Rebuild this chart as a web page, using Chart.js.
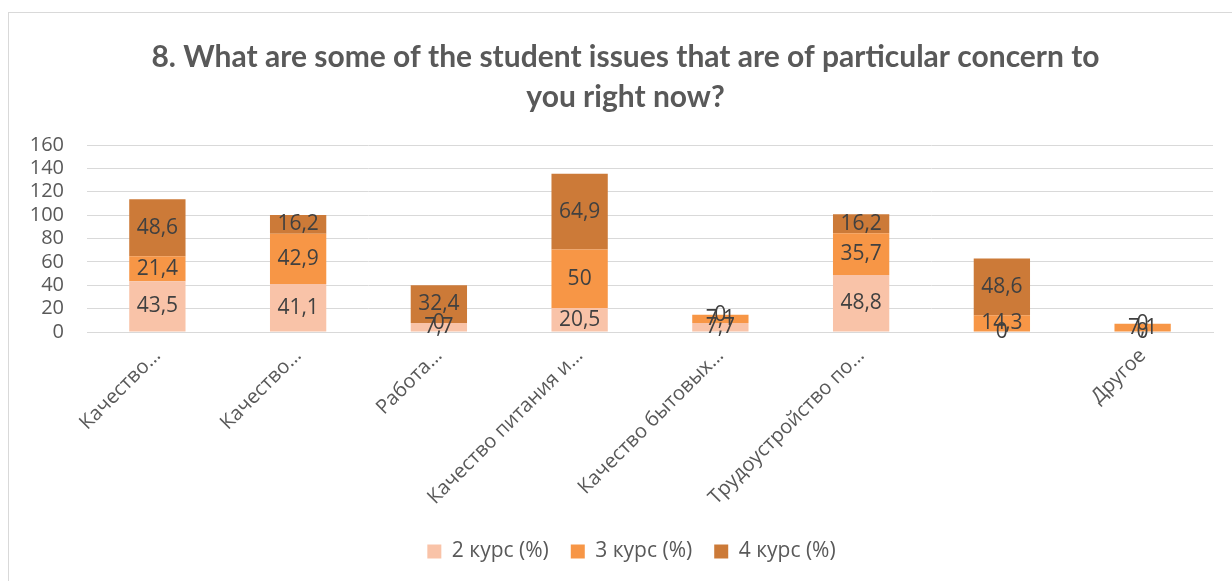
<!DOCTYPE html>
<html>
<head>
<meta charset="utf-8">
<script src="https://cdn.jsdelivr.net/npm/chart.js@4.4.0/dist/chart.umd.min.js"></script>
<style>
  html, body { margin: 0; padding: 0; background: #fff; }
  #wrap { position: relative; width: 1232px; height: 581px; }
</style>
</head>
<body>
<div id="wrap"><canvas id="chart"></canvas></div>
<script>
const categories = ['Качество…', 'Качество…', 'Работа…', 'Качество питания и…', 'Качество бытовых…', 'Трудоустройство по…', '', 'Другое'];
const course2 = [43.5, 41.1, 7.7, 20.5, 7.7, 48.8, 0, 0];
const course3 = [21.4, 42.9, 0, 50, 7.1, 35.7, 14.3, 7.1];
const course4 = [48.6, 16.2, 32.4, 64.9, 0, 16.2, 48.6, 0];
const seriesNames = ['2 курс (%)', '3 курс (%)', '4 курс (%)'];
const yTicks = [0, 20, 40, 60, 80, 100, 120, 140, 160];

const textColor = '#595959';
const gridColor = '#D9D9D9';

// value labels in the middle of each segment, comma as decimal mark
const valueLabels = {
    id: 'valueLabels',
    afterDatasetsDraw(chart) {
        const ctx = chart.ctx;
        ctx.save();
        ctx.font = '21px "Open Sans", sans-serif';
        ctx.fillStyle = '#404040';
        ctx.textAlign = 'center';
        ctx.textBaseline = 'middle';
        chart.data.datasets.forEach((ds, i) => {
            const meta = chart.getDatasetMeta(i);
            meta.data.forEach((bar, j) => {
                const txt = String(ds.data[j]).replace('.', ',');
                ctx.fillText(txt, bar.x, (bar.y + bar.base) / 2);
            });
        });
        ctx.restore();
    }
};

// thin frame around the chart like the office chart box
const frame = {
    id: 'frame',
    beforeDraw(chart) {
        const ctx = chart.ctx;
        ctx.save();
        ctx.strokeStyle = gridColor;
        ctx.lineWidth = 1;
        ctx.strokeRect(8.5, 12.5, 1300, 700);
        ctx.restore();
    }
};

// title and legend are centred on the whole box, not on the plot
const recenter = {
    id: 'recenter',
    afterLayout(chart) {
        chart.titleBlock.left += 38;
        chart.legend.left += 50;
    }
};

new Chart(document.getElementById('chart'), {
    type: 'bar',
    data: {
        labels: categories,
        datasets: [
            { label: seriesNames[0], data: course2, backgroundColor: '#F9C3A8' },
            { label: seriesNames[1], data: course3, backgroundColor: '#F79646' },
            { label: seriesNames[2], data: course4, backgroundColor: '#CC7A38' }
        ]
    },
    options: {
        responsive: true,
        maintainAspectRatio: false,
        animation: false,
        layout: { padding: { left: 0, right: 19, top: 37, bottom: 9 } },
        datasets: { bar: { categoryPercentage: 1, barPercentage: 0.4 } },
        scales: {
            x: {
                stacked: true,
                grid: { display: false, drawTicks: false },
                border: { display: true, color: gridColor },
                ticks: {
                    color: textColor,
                    font: { family: '"Open Sans", sans-serif', size: 20 },
                    minRotation: 45,
                    maxRotation: 45,
                    autoSkip: false,
                    padding: 12
                },
                afterFit(scale) { scale.height = 187; }
            },
            y: {
                stacked: true,
                min: 0,
                max: 160,
                afterBuildTicks(scale) { scale.ticks = yTicks.map(v => ({ value: v })); },
                grid: { color: gridColor, drawTicks: false },
                border: { display: false },
                ticks: {
                    color: textColor,
                    font: { family: '"Open Sans", sans-serif', size: 20 },
                    padding: 23,
                    autoSkip: false,
                    stepSize: 20
                },
                afterFit(scale) { scale.width = 87; }
            }
        },
        plugins: {
            title: {
                display: true,
                text: ['8. What are some of the student issues that are of particular concern to', 'you right now?'],
                color: textColor,
                font: { family: '"Liberation Sans Narrow", Lato, sans-serif', size: 30, weight: 'bold', lineHeight: '40px' },
                padding: { top: 0, bottom: 28 }
            },
            legend: {
                position: 'bottom',
                labels: {
                    color: textColor,
                    font: { family: '"Open Sans", sans-serif', size: 21 },
                    boxWidth: 14,
                    boxHeight: 14,
                    padding: 22
                }
            },
            tooltip: { enabled: false }
        }
    },
    plugins: [valueLabels, frame, recenter]
});
</script>
</body>
</html>
